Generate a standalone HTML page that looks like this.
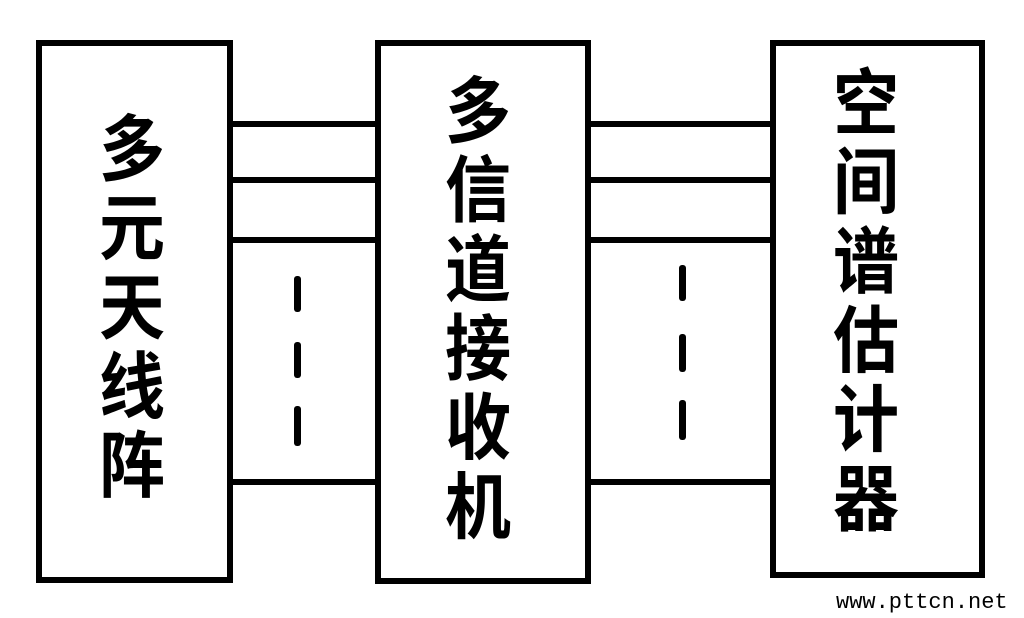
<!DOCTYPE html>
<html><head><meta charset="utf-8"><style>
body{margin:0;width:1024px;height:618px;background:#fff;position:relative;overflow:hidden}
.b{position:absolute;border:6px solid #000;box-sizing:border-box}
.h{position:absolute;height:6px;background:#000}
.d{position:absolute;width:7px;background:#000;border-radius:3px}
.t{position:absolute;font-family:"Liberation Sans","Noto Sans CJK SC","WenQuanYi Zen Hei",sans-serif;font-size:66px;line-height:72px;width:80px;text-align:center;font-weight:bold;color:#000;transform:scaleY(1.1);transform-origin:top left}
.w{position:absolute;left:836px;top:590px;font-family:"Liberation Mono",monospace;font-size:22px;color:#000}
</style></head><body>
<div class="b" style="left:36px;top:40px;width:197px;height:543px"></div>
<div class="b" style="left:375px;top:40px;width:216px;height:544px"></div>
<div class="b" style="left:770px;top:40px;width:215px;height:538px"></div>
<div class="h" style="left:232px;top:121px;width:145px"></div>
<div class="h" style="left:232px;top:177px;width:145px"></div>
<div class="h" style="left:232px;top:237px;width:145px"></div>
<div class="h" style="left:232px;top:479px;width:145px"></div>
<div class="h" style="left:590px;top:121px;width:182px"></div>
<div class="h" style="left:590px;top:177px;width:182px"></div>
<div class="h" style="left:590px;top:237px;width:182px"></div>
<div class="h" style="left:590px;top:479px;width:182px"></div>
<div class="d" style="left:294px;top:276px;height:36px"></div>
<div class="d" style="left:294px;top:342px;height:36px"></div>
<div class="d" style="left:294px;top:406px;height:40px"></div>
<div class="d" style="left:679px;top:265px;height:36px"></div>
<div class="d" style="left:679px;top:334px;height:38px"></div>
<div class="d" style="left:679px;top:400px;height:40px"></div>
<div class="t" style="left:92px;top:110px">多<br>元<br>天<br>线<br>阵</div>
<div class="t" style="left:438px;top:72px">多<br>信<br>道<br>接<br>收<br>机</div>
<div class="t" style="left:826px;top:64px">空<br>间<br>谱<br>估<br>计<br>器</div>
<div class="w">www.pttcn.net</div>
</body></html>
